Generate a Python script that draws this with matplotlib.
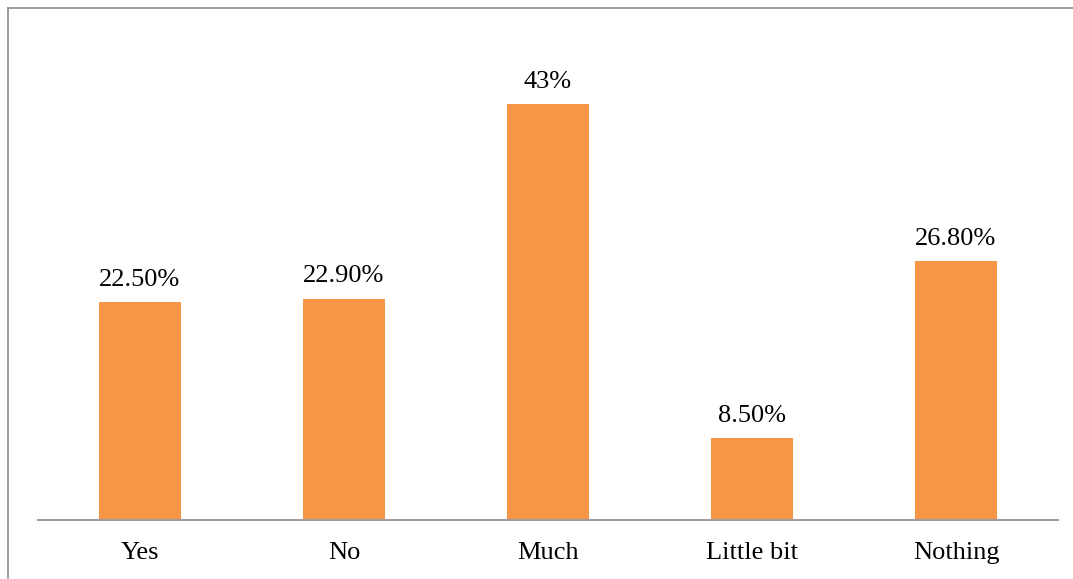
import matplotlib.pyplot as plt
from matplotlib.lines import Line2D

categories = ["Yes", "No", "Much", "Little bit", "Nothing"]
values = [22.5, 22.9, 43, 8.5, 26.8]
labels = ["22.50%", "22.90%", "43%", "8.50%", "26.80%"]

W, H = 1073, 579
fig = plt.figure(figsize=(W / 100, H / 100), dpi=100)
plt.rcParams["font.family"] = ["Liberation Serif", "DejaVu Serif"]

ax = fig.add_axes([38 / W, 59 / H, (1058 - 38) / W, (520 - 30) / H])
ax.bar(range(len(values)), values, width=0.4, color="#F79646")
ax.set_xlim(-0.5, 4.5)
ax.set_ylim(0, 490 / 9.67)

for i, (v, lab) in enumerate(zip(values, labels)):
    ax.annotate(lab, (i, v), xytext=(0, 8), textcoords="offset points",
                ha="center", va="bottom", fontsize=19)

ax.set_xticks(range(len(categories)))
ax.set_xticklabels(categories, fontsize=19)
ax.tick_params(axis="x", length=0, pad=16)
ax.set_yticks([])
for side in ["top", "right", "left"]:
    ax.spines[side].set_visible(False)
ax.spines["bottom"].set_color("#a0a0a0")
ax.spines["bottom"].set_linewidth(1.5)

# outer chart border (cut at the right and bottom)
fig.add_artist(Line2D([8 / W, 8 / W], [0, 1 - 8 / H], color="#8c8c8c", lw=1.2))
fig.add_artist(Line2D([8 / W, 1], [1 - 8 / H, 1 - 8 / H], color="#8c8c8c", lw=1.2))

fig.savefig("out.png", dpi=100)
